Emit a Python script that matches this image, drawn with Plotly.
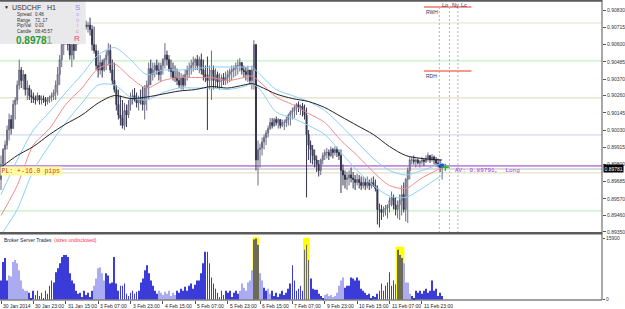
import plotly.graph_objects as go

# ---------------- data ----------------
highs = [0.8986,0.8991,0.8996,0.9006,0.9014,0.9013,0.9023,0.9025,0.9036,0.9050,
0.9045,0.9043,0.9038,0.9036,0.9033,0.9030,0.9028,0.9026,0.9028,0.9026,
0.9026,0.9026,0.9025,0.9025,0.9026,0.9028,0.9030,0.9036,0.9045,0.9053,
0.9066,0.9070,0.9076,0.9075,0.9070,0.9065,0.9063,0.9068,0.9071,0.9073,
0.9075,0.9076,0.9076,0.9075,0.9078,0.9073,0.9072,0.9060,0.9056,0.9053,
0.9050,0.9051,0.9056,0.9061,0.9060,0.9050,0.9048,0.9033,0.9030,0.9026,
0.9023,0.9021,0.9020,0.9023,0.9028,0.9030,0.9031,0.9028,0.9026,0.9030,
0.9032,0.9033,0.9036,0.9048,0.9050,0.9048,0.9048,0.9050,0.9048,0.9048,
0.9051,0.9061,0.9056,0.9053,0.9050,0.9048,0.9046,0.9044,0.9042,0.9041,
0.9040,0.9043,0.9046,0.9048,0.9050,0.9052,0.9051,0.9053,0.9052,0.9054,
0.9050,0.9046,0.9052,0.9046,0.9056,0.9046,0.9044,0.9042,0.9041,0.9040,
0.9041,0.9042,0.9043,0.9044,0.9046,0.9046,0.9048,0.9050,0.9051,0.9048,
0.9046,0.9045,0.9046,0.9043,0.9046,0.9063,0.9060,0.8996,0.8994,0.8998,
0.9000,0.9003,0.9006,0.9011,0.9011,0.9011,0.9012,0.9011,0.9010,0.9010,
0.9010,0.9012,0.9014,0.9016,0.9018,0.9020,0.9021,0.9022,0.9020,0.9021,
0.9020,0.9018,0.9003,0.8996,0.8993,0.8990,0.8986,0.8983,0.8984,0.8988,
0.8990,0.8991,0.8990,0.8992,0.8991,0.8992,0.8992,0.8990,0.8990,0.8980,
0.8976,0.8975,0.8976,0.8978,0.8975,0.8973,0.8974,0.8973,0.8972,0.8972,
0.8971,0.8972,0.8970,0.8971,0.8972,0.8970,0.8966,0.8954,0.8953,0.8952,
0.8953,0.8953,0.8958,0.8962,0.8960,0.8958,0.8956,0.8960,0.8966,0.8968,
0.8971,0.8978,0.8985,0.8985,0.8986,0.8984,0.8984,0.8983,0.8985,0.8984,
0.8986,0.8988,0.8986,0.8987,0.8986,0.8985,0.8984,0.8983,0.8981]

lows = [0.8963,0.8975,0.8980,0.8990,0.8996,0.9000,0.9004,0.9010,0.9020,0.9030,
0.9031,0.9030,0.9026,0.9023,0.9023,0.9021,0.9021,0.9020,0.9022,0.9020,
0.9020,0.9021,0.9019,0.9020,0.9021,0.9022,0.9023,0.9023,0.9026,0.9033,
0.9045,0.9053,0.9060,0.9056,0.9050,0.9045,0.9050,0.9056,0.9060,0.9063,
0.9064,0.9068,0.9070,0.9068,0.9066,0.9056,0.9054,0.9043,0.9038,0.9040,
0.9038,0.9042,0.9043,0.9046,0.9041,0.9033,0.9028,0.9016,0.9010,0.9006,
0.9004,0.9003,0.9005,0.9011,0.9016,0.9020,0.9022,0.9018,0.9016,0.9020,
0.9016,0.9010,0.9016,0.9023,0.9033,0.9036,0.9038,0.9040,0.9036,0.9035,
0.9040,0.9044,0.9046,0.9042,0.9038,0.9036,0.9035,0.9033,0.9031,0.9030,
0.9030,0.9032,0.9036,0.9038,0.9040,0.9042,0.9043,0.9043,0.9041,0.9040,
0.9036,0.9035,0.9003,0.9030,0.9023,0.9030,0.9031,0.9031,0.9030,0.9031,
0.9033,0.9033,0.9034,0.9035,0.9036,0.9038,0.9039,0.9040,0.9042,0.9040,
0.9038,0.9036,0.9035,0.9033,0.9030,0.9030,0.8976,0.8966,0.8978,0.8986,
0.8990,0.8993,0.8998,0.9003,0.9004,0.9005,0.9006,0.9004,0.9004,0.9005,
0.9003,0.9005,0.9006,0.9006,0.9010,0.9011,0.9013,0.9015,0.9013,0.9012,
0.9010,0.8958,0.8983,0.8981,0.8980,0.8978,0.8975,0.8972,0.8973,0.8980,
0.8983,0.8984,0.8983,0.8985,0.8984,0.8986,0.8985,0.8983,0.8961,0.8966,
0.8964,0.8963,0.8966,0.8968,0.8964,0.8963,0.8966,0.8964,0.8963,0.8964,
0.8963,0.8964,0.8963,0.8964,0.8965,0.8962,0.8940,0.8938,0.8943,0.8945,
0.8946,0.8944,0.8948,0.8952,0.8950,0.8946,0.8944,0.8943,0.8946,0.8948,
0.8942,0.8941,0.8970,0.8980,0.8980,0.8978,0.8980,0.8978,0.8980,0.8979,
0.8981,0.8982,0.8981,0.8982,0.8980,0.8979,0.8978,0.8975,0.8970]

closes = [0.8980,0.8990,0.8993,0.9003,0.9010,0.9004,0.9020,0.9023,0.9033,0.9043,
0.9036,0.9040,0.9030,0.9031,0.9026,0.9025,0.9024,0.9023,0.9026,0.9023,
0.9024,0.9023,0.9022,0.9024,0.9025,0.9026,0.9028,0.9033,0.9040,0.9050,
0.9060,0.9063,0.9070,0.9060,0.9053,0.9060,0.9056,0.9064,0.9066,0.9070,
0.9071,0.9073,0.9072,0.9073,0.9070,0.9060,0.9056,0.9046,0.9043,0.9048,
0.9043,0.9050,0.9053,0.9056,0.9043,0.9036,0.9030,0.9020,0.9013,0.9011,
0.9006,0.9016,0.9013,0.9020,0.9024,0.9026,0.9023,0.9021,0.9024,0.9023,
0.9020,0.9031,0.9033,0.9044,0.9040,0.9043,0.9046,0.9043,0.9040,0.9046,
0.9050,0.9053,0.9050,0.9044,0.9042,0.9038,0.9038,0.9036,0.9033,0.9038,
0.9033,0.9040,0.9043,0.9044,0.9046,0.9048,0.9050,0.9046,0.9050,0.9043,
0.9040,0.9038,0.9036,0.9040,0.9043,0.9036,0.9040,0.9035,0.9036,0.9038,
0.9036,0.9038,0.9040,0.9042,0.9043,0.9044,0.9046,0.9046,0.9048,0.9043,
0.9042,0.9040,0.9043,0.9036,0.9043,0.9060,0.8983,0.8990,0.8991,0.8995,
0.8998,0.9001,0.9004,0.9008,0.9006,0.9010,0.9008,0.9010,0.9006,0.9008,
0.9008,0.9010,0.9013,0.9015,0.9016,0.9018,0.9020,0.9018,0.9019,0.9016,
0.9013,0.9000,0.8993,0.8990,0.8986,0.8983,0.8980,0.8976,0.8983,0.8986,
0.8988,0.8988,0.8986,0.8990,0.8988,0.8990,0.8988,0.8986,0.8976,0.8973,
0.8970,0.8971,0.8973,0.8971,0.8970,0.8968,0.8970,0.8968,0.8966,0.8968,
0.8966,0.8968,0.8966,0.8968,0.8966,0.8964,0.8950,0.8950,0.8948,0.8950,
0.8951,0.8953,0.8956,0.8958,0.8953,0.8950,0.8953,0.8956,0.8960,0.8950,
0.8970,0.8976,0.8983,0.8983,0.8982,0.8983,0.8981,0.8982,0.8983,0.8982,
0.8984,0.8986,0.8983,0.8985,0.8983,0.8981,0.8980,0.8978,0.89781]

first_open = 0.8970
opens = [first_open] + closes[:-1]

volumes = [4940,9750,10810,4940,6270,6010,9750,10280,9480,7610,
4940,2800,2270,2270,1740,400,2270,1200,2270,930,
1740,400,2270,1470,3600,4940,4410,7080,8140,9480,
11080,11610,11610,11080,6810,4940,4140,2270,1470,1740,
670,2270,1200,1740,670,2270,3600,5470,8140,8410,
6810,4940,6810,6270,4140,4410,11080,4140,2270,3600,
3600,4140,1470,930,1740,2270,1470,2000,2270,4410,
5470,7610,8940,6810,4940,3600,2270,1470,2270,1740,
1200,2000,1470,2270,930,1740,1200,2270,1740,2800,
2270,3340,2270,3600,4140,2800,3870,4940,4940,6810,
9480,12420,12420,9480,5740,4140,2800,1740,670,2270,
1200,2270,1740,2270,670,1740,2270,1470,2270,4140,
3070,2270,4410,4940,7610,15620,15900,14280,6810,4940,
3070,2270,2800,1470,2270,930,1740,670,1470,2270,
1200,1740,2800,4140,8940,4940,2270,2800,3600,2270,
12950,14280,10280,5470,2800,2540,2540,1470,930,400,
1200,1470,930,1200,670,930,1740,3600,4940,5740,
3070,3600,3600,5740,5470,4940,5740,4940,2800,2270,
1740,1200,1470,400,930,670,1470,2270,4140,2270,
3600,4410,7080,3600,4940,4000,12950,11610,10810,9480,
4410,4410,1470,930,400,2270,1740,2270,1470,2270,
2800,1740,2270,4940,2270,2800,930,1740,930]

# d = ordinary, l = light, y = flagged (highlighted) bars
volume_kind = ("dddd" "llllllllll" "dddddddddddddddddddddddddddddddd" "llllll"
               "dddddddddddddddddddddddddd" "lllllllll" "ddddddddddddddddddddddddddddddd"
               "lllllll" "yyy" "ll" "dd" "ll" "dddddddddddddddd" "yyy" "ddddddd"
               "llllllllll" "ddddddddddddddddddddddddd" "yyyy" "llll" "dddddddddddddddd")

flag_zones = [(124.3, 127.6, 16200), (149.3, 152.5, 16100), (195.0, 199.3, 13750)]

ma_idx = [0, 8, 16, 24, 32, 40, 48, 56, 64, 72, 80, 88, 96, 104, 112, 120, 124, 128,
          136, 144, 152, 160, 168, 176, 184, 192, 200, 208, 218]
ma_slow = [0.8978,0.8986,0.8992,0.9000,0.9007,0.9013,0.9021,0.9026,0.9024,0.9025,0.9027,
           0.9029,0.9030,0.9032,0.9031,0.9033,0.9034,0.9032,0.9027,0.9024,0.9022,0.9018,
           0.9012,0.9006,0.9000,0.8992,0.8986,0.8984,0.8983]
ma_mid = [0.8946,0.8966,0.8993,0.9004,0.9020,0.9031,0.9044,0.9047,0.9038,0.9031,0.9036,
          0.9038,0.9038,0.9038,0.9036,0.9038,0.9039,0.9035,0.9025,0.9020,0.9014,0.9008,
          0.8996,0.8986,0.8975,0.8966,0.8964,0.8971,0.8978]
ma_high = [0.8960,0.8983,0.9003,0.9015,0.9028,0.9040,0.9053,0.9058,0.9050,0.9040,0.9043,
           0.9043,0.9044,0.9045,0.9045,0.9045,0.9045,0.9040,0.9030,0.9026,0.9022,0.9016,
           0.9006,0.8995,0.8984,0.8976,0.8973,0.8976,0.8981]
ma_low = [0.8933,0.8950,0.8976,0.8993,0.9008,0.9021,0.9033,0.9033,0.9025,0.9023,0.9028,
          0.9031,0.9031,0.9031,0.9030,0.9032,0.9034,0.9030,0.9015,0.9011,0.9006,0.9000,
          0.8988,0.8976,0.8966,0.8959,0.8958,0.8964,0.8973]

price_ticks = [0.89350, 0.89460, 0.89570, 0.89685, 0.89800, 0.89915, 0.90030,
               0.90145, 0.90260, 0.90370, 0.90485, 0.90600, 0.90715, 0.90830]
time_idx = [0, 16, 32, 48, 64, 80, 96, 112, 128, 144, 160, 176, 192, 208]
time_labels = ["30 Jan 2014", "30 Jan 23:00", "31 Jan 15:00", "3 Feb 07:00", "3 Feb 23:00",
               "4 Feb 15:00", "5 Feb 07:00", "5 Feb 23:00", "6 Feb 15:00", "7 Feb 07:00",
               "9 Feb 23:00", "10 Feb 15:00", "11 Feb 07:00", "11 Feb 23:00"]

levels = [(0.90744, "#e6e1cc"), (0.90491, "#c4f0c4"), (0.90244, "#e6e1cc"),
          (0.89997, "#d8d8f2"), (0.89744, "#e6e1cc"), (0.89490, "#c4f0c4")]
av_price = 0.89791
bid_line = 0.89770
rwh, rdh = 0.90851, 0.90424
ref_span = (209, 232.5)
sessions = [(216.6, "Lo"), (221.6, "Ny"), (225.8, "Lc")]
vol_max = 15900

# ---------------- figure ----------------
idx = list(range(len(closes)))
FONT = "Liberation Sans"
MONO = "Liberation Mono"

def px(x):
    return x / 604.0

def py(y):
    return (300.0 - y) / 298.0

fig = go.Figure()

fig.add_trace(go.Candlestick(
    x=idx, open=opens, high=highs, low=lows, close=closes,
    increasing=dict(line=dict(color="#6c6c84", width=1), fillcolor="#a6a6b8"),
    decreasing=dict(line=dict(color="#34344f", width=1), fillcolor="#34344f"),
    whiskerwidth=0, xaxis="x", yaxis="y", hoverinfo="skip", showlegend=False))

for series, color in [(ma_high, "#8ccff7"), (ma_low, "#8ccff7"), (ma_mid, "#f08c8c"), (ma_slow, "#222222")]:
    fig.add_trace(go.Scatter(x=ma_idx, y=series, mode="lines",
                             line=dict(color=color, width=1, shape="spline", smoothing=0.8),
                             xaxis="x", yaxis="y", hoverinfo="skip", showlegend=False))

last = idx[-1]
fig.add_trace(go.Scatter(x=[last], y=[av_price], mode="markers",
                         marker=dict(symbol="square", size=4, color="#1f4fff"),
                         xaxis="x", yaxis="y", showlegend=False, hoverinfo="skip"))
fig.add_trace(go.Scatter(x=[last + 1.6], y=[closes[-1]], mode="markers",
                         marker=dict(symbol="cross-thin", size=5, line=dict(color="#22bb22", width=1.5)),
                         xaxis="x", yaxis="y", showlegend=False, hoverinfo="skip"))

kind_color = {"d": "#3b3bd9", "l": "#ababf2", "y": "#6b6b58"}
fig.add_trace(go.Bar(x=idx, y=volumes, marker=dict(color=[kind_color[k] for k in volume_kind], line=dict(width=0)),
                     width=0.4, xaxis="x2", yaxis="y2", hoverinfo="skip", showlegend=False))

shapes = []
for val, col in levels:
    shapes.append(dict(type="line", xref="paper", yref="y", x0=0, x1=1, y0=val, y1=val,
                       line=dict(color=col, width=1.2), layer="below"))
shapes.append(dict(type="line", xref="paper", yref="y", x0=0, x1=1, y0=bid_line, y1=bid_line,
                   line=dict(color="#b4bcb4", width=1), layer="below"))
shapes.append(dict(type="line", xref="paper", yref="y", x0=0, x1=1, y0=av_price, y1=av_price,
                   line=dict(color="#c08ae8", width=1.6), layer="below"))
for sx, _ in sessions:
    shapes.append(dict(type="line", xref="x", yref="y", x0=sx, x1=sx, y0=0.89343, y1=0.90845,
                       line=dict(color="#b4b4b4", width=1, dash="2px,2px"), layer="below"))
for lv in (rwh, rdh):
    shapes.append(dict(type="line", xref="x", yref="y", x0=ref_span[0], x1=ref_span[1], y0=lv, y1=lv,
                       line=dict(color="#f07a68", width=1.6), layer="above"))
for x0, x1, top in flag_zones:
    shapes.append(dict(type="rect", xref="x2", yref="y2", x0=x0, x1=x1, y0=0, y1=top,
                       fillcolor="#ffff00", line=dict(width=0), layer="below"))
# info box
shapes.append(dict(type="rect", xref="paper", yref="paper", x0=px(0), x1=px(86), y0=py(44), y1=py(0),
                   fillcolor="#e9e9ec", line=dict(width=0), layer="above"))
# frame
shapes.append(dict(type="line", xref="paper", yref="paper", x0=0, x1=1, y0=py(0.8), y1=py(0.8),
                   line=dict(color="#5a5a5a", width=2)))
shapes.append(dict(type="line", xref="paper", yref="paper", x0=0, x1=1, y0=py(233.3), y1=py(233.3),
                   line=dict(color="#5a5a5a", width=2.5)))
shapes.append(dict(type="line", xref="paper", yref="paper", x0=0, x1=1, y0=0, y1=0,
                   line=dict(color="#444444", width=1)))
shapes.append(dict(type="line", xref="paper", yref="paper", x0=1, x1=1, y0=0, y1=py(0),
                   line=dict(color="#555555", width=1)))

ann = []
for ti, tl in zip(time_idx, time_labels):
    ann.append(dict(x=ti, xref="x2", y=0, yref="paper", text=tl, showarrow=False,
                    xanchor="left", yanchor="top", xshift=0, yshift=-0.5,
                    font=dict(family=FONT, size=5, color="#222222")))
ann.append(dict(x=1, xref="paper", y=closes[-1], yref="y", text="0.89781", showarrow=False,
                xanchor="left", yanchor="middle", xshift=1, yshift=-1, bgcolor="#000000", borderpad=0.5,
                font=dict(family=FONT, size=5, color="#ffffff")))
ann.append(dict(x=px(0), y=py(171.5), xref="paper", yref="paper", text="PL: +-16.0 pips",
                showarrow=False, xanchor="left", yanchor="middle", bgcolor="#ffffa0", borderpad=0.5,
                font=dict(family=MONO, size=6.5, color="#e03030")))
ann.append(dict(x=px(455), y=py(170), xref="paper", yref="paper", text="AV: 0.89791,  Long",
                showarrow=False, xanchor="left", yanchor="middle",
                font=dict(family=MONO, size=6, color="#a040e0")))
for sx, lab in sessions:
    ann.append(dict(x=sx, xref="x", y=py(5), yref="paper", text=lab, showarrow=False,
                    xanchor="left", yanchor="middle", xshift=1,
                    font=dict(family=FONT, size=5.5, color="#333366")))
for lv, lab in [(rwh, "RWH"), (rdh, "RDH")]:
    ann.append(dict(x=ref_span[0], xref="x", y=lv, yref="y", text=lab, showarrow=False,
                    xanchor="left", yanchor="top", xshift=0, yshift=-0.5,
                    font=dict(family=FONT, size=5, color="#333366")))
ann.append(dict(x=px(2), y=py(240), xref="paper", yref="paper", text="Broker Server Trades",
                showarrow=False, xanchor="left", yanchor="middle",
                font=dict(family=FONT, size=5, color="#222244")))
ann.append(dict(x=px(52), y=py(240), xref="paper", yref="paper", text="(sizes undisclosed)",
                showarrow=False, xanchor="left", yanchor="middle",
                font=dict(family=FONT, size=5, color="#ff3050")))
# info panel texts
ann.append(dict(x=px(2), y=py(7), xref="paper", yref="paper", text="▼", showarrow=False,
                xanchor="left", yanchor="middle", font=dict(family=FONT, size=5, color="#222222")))
ann.append(dict(x=px(10), y=py(7), xref="paper", yref="paper", text="USDCHF   H1", showarrow=False,
                xanchor="left", yanchor="middle", font=dict(family=FONT, size=7, color="#333333")))
for k, (lab, val) in enumerate([("Spread", "0.48"), ("Range", "72, 17"), ("Pip/Val", "0.03"), ("Candle", "08:45:57")]):
    yy = 14.5 + 5.5 * k
    ann.append(dict(x=px(15), y=py(yy), xref="paper", yref="paper", text=lab, showarrow=False,
                    xanchor="left", yanchor="middle", font=dict(family=FONT, size=4.5, color="#333333")))
    ann.append(dict(x=px(33), y=py(yy), xref="paper", yref="paper", text=val, showarrow=False,
                    xanchor="left", yanchor="middle", font=dict(family=FONT, size=4.5, color="#333333")))
ann.append(dict(x=px(14), y=py(40), xref="paper", yref="paper",
                text="<b>0.8978</b><span style='color:#9cb49c'><b>1</b></span>", showarrow=False,
                xanchor="left", yanchor="middle", font=dict(family=FONT, size=10, color="#2e9a2e")))
for letter, yy, col, sz in [("S", 7, "#8c8cff", 8), ("o", 14.5, "#b4a0f4", 5.5), ("n", 20, "#c89ce0", 5.5),
                            ("i", 25.5, "#d890cc", 5.5), ("c", 31, "#e488b4", 5.5), ("R", 39, "#f0406e", 8)]:
    ann.append(dict(x=px(77.5), y=py(yy), xref="paper", yref="paper", text=letter, showarrow=False,
                    xanchor="center", yanchor="middle", font=dict(family=FONT, size=sz, color=col)))

xr = [-0.5, 297.0]
fig.update_layout(
    width=625, height=309,
    margin=dict(l=0, r=21, t=2, b=9),
    paper_bgcolor="#ffffff", plot_bgcolor="#ffffff",
    showlegend=False,
    shapes=shapes, annotations=ann,
    xaxis=dict(domain=[0, 1], range=xr, anchor="y", showticklabels=False, showgrid=False,
               zeroline=False, rangeslider=dict(visible=False), ticks=""),
    yaxis=dict(domain=[py(233), 1], range=[0.89343, 0.90884], side="right", anchor="x",
               tickvals=price_ticks, ticktext=["%.5f" % v for v in price_ticks],
               ticks="outside", ticklen=3, tickcolor="#555555",
               tickfont=dict(family=FONT, size=5, color="#333333"),
               showgrid=False, zeroline=False),
    xaxis2=dict(domain=[0, 1], range=xr, anchor="y2", showticklabels=False, showgrid=False,
                zeroline=False, tickvals=time_idx, ticks="outside", ticklen=3, tickcolor="#555555"),
    yaxis2=dict(domain=[0, py(235)], range=[-130, 16812], side="right", anchor="x2",
                tickvals=[0, vol_max], ticktext=["0", str(vol_max)], ticks="outside", ticklen=2,
                tickcolor="#555555", tickfont=dict(family=FONT, size=5, color="#333333"),
                showgrid=False, zeroline=False),
)

fig.write_html("out.html")
